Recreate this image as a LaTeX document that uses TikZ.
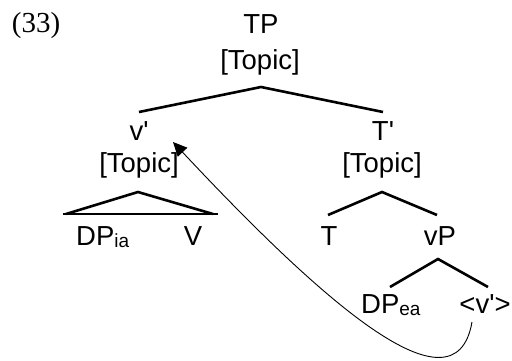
\documentclass[tikz,border=0pt]{standalone}
\usepackage{fontspec}
\newfontfamily\lblfont{Liberation Sans}
\newfontfamily\exfont{Liberation Serif}
\usetikzlibrary{arrows.meta}
\newcommand{\subs}[1]{\raisebox{-2pt}{\fontsize{19}{21}\selectfont #1}}
\begin{document}
\begin{tikzpicture}[x=1pt,y=-1pt,
  txt/.style={inner sep=0pt,anchor=base,font=\lblfont\fontsize{27.5}{30}\selectfont},
  branch/.style={line width=2.6pt,line cap=butt,line join=miter},
  movearrow/.style={line width=0.9pt,-{Triangle[length=14pt,width=13pt]}}]
\useasboundingbox (0,0) rectangle (512,360);
\node[inner sep=0pt,anchor=base,font=\exfont\fontsize{29}{32}\selectfont] (ex) at (36,32) {(33)};
\node[txt] (tp) at (261,33) {TP};
\node[txt] (tpf) at (260,69) {[Topic]};
\node[txt] (vbar) at (139,140) {v'};
\node[txt] (vf) at (139,172) {[Topic]};
\node[txt] (tbar) at (383,140) {T'};
\node[txt] (tf) at (382,172) {[Topic]};
\node[txt,anchor=base west] (dpia) at (76,245) {DP\subs{ia}};
\node[txt] (v) at (193,245) {V};
\node[txt] (t) at (329,245) {T};
\node[txt] (vp) at (440,245) {vP};
\node[txt,anchor=base west] (dpea) at (361,313) {DP\subs{ea}};
\node[txt] (vtrace) at (485,313) {<v'>};
% branch points
\coordinate (a1) at (261,87);
\coordinate (a1l) at (139,112);
\coordinate (a1r) at (383,112);
\coordinate (a2) at (138,192);
\coordinate (a2l) at (66,214);
\coordinate (a2r) at (213,214);
\coordinate (b2l) at (63,214);
\coordinate (b2r) at (218,214);
\coordinate (a3) at (382,192);
\coordinate (a3l) at (328,215);
\coordinate (a3r) at (437,215);
\coordinate (a4) at (438,259);
\coordinate (a4l) at (390,287);
\coordinate (a4r) at (488,287);
\draw[branch] (a1l) -- (a1) -- (a1r);
\draw[branch] (a2l) -- (a2) -- (a2r);
\draw[branch] (b2l) -- (b2r);
\draw[branch] (a3l) -- (a3) -- (a3r);
\draw[branch] (a4l) -- (a4) -- (a4r);
% movement arrow
\coordinate (mstart) at (472,322);
\coordinate (mend) at (173,142);
\draw[movearrow] (mstart) .. controls +(-17,98) and +(147,157) .. (mend);
\end{tikzpicture}
\end{document}
